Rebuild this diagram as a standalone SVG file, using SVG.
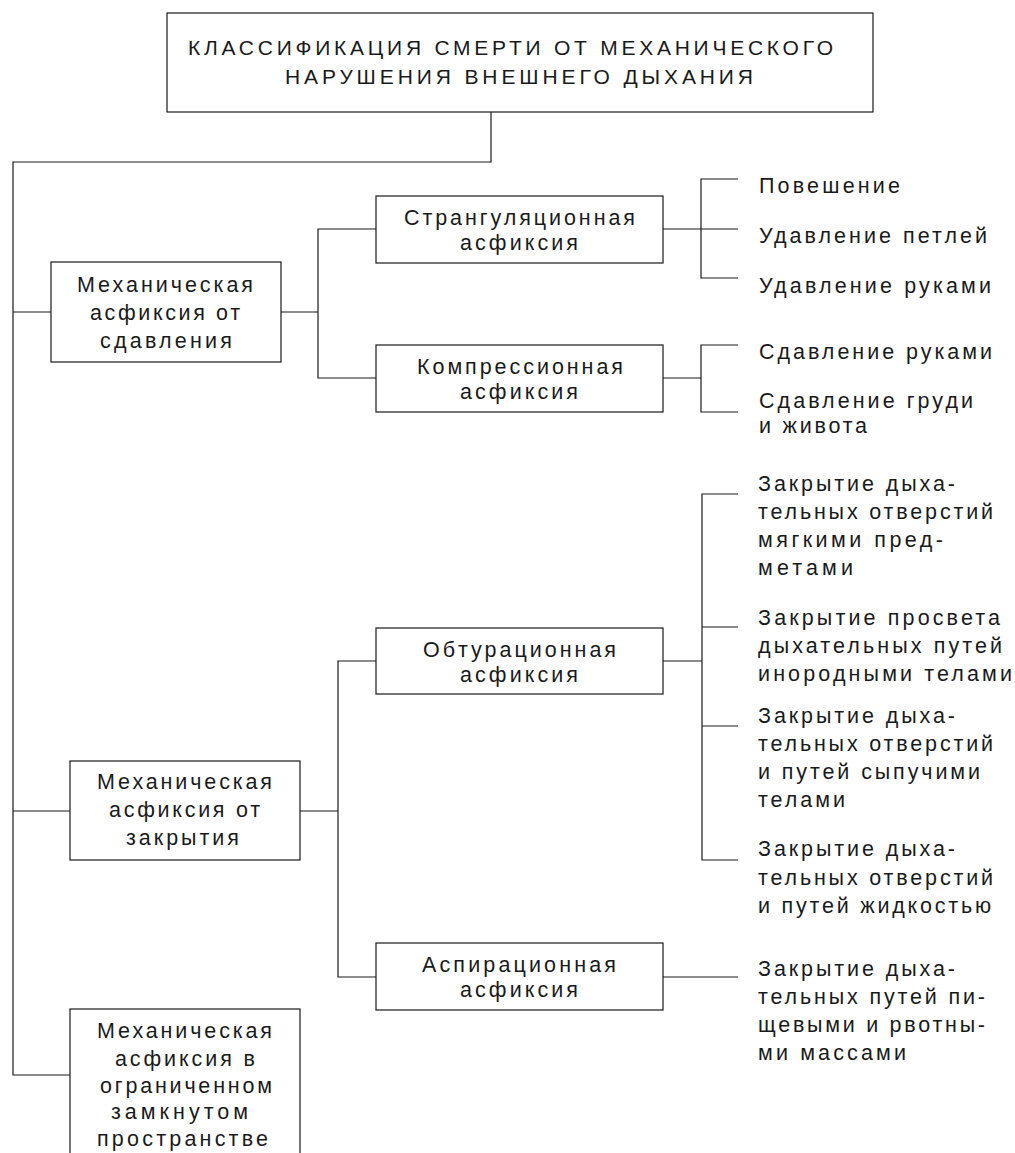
<svg xmlns="http://www.w3.org/2000/svg" width="1015" height="1153" viewBox="0 0 1015 1153">
<style>
.box{fill:#fff;stroke:#1a1a1a;stroke-width:1.2}
.ln{fill:none;stroke:#1a1a1a;stroke-width:1.2}
text{font-family:"Liberation Sans","DejaVu Sans",Arial,sans-serif;font-size:21.5px;fill:#1a1a1a}
.tt{font-size:21px}
</style>
<rect width="1015" height="1153" fill="#fff"/>
<g id="connectors">
<polyline class="ln" points="491,112 491,162 13,162 13,1075 70,1075"/>
<line class="ln" x1="13" y1="312" x2="51" y2="312"/>
<line class="ln" x1="13" y1="811" x2="70" y2="811"/>
<line class="ln" x1="281" y1="312" x2="318" y2="312"/>
<polyline class="ln" points="376,229 318,229 318,378 376,378"/>
<line class="ln" x1="663" y1="229" x2="701" y2="229"/>
<polyline class="ln" points="738,179 701,179 701,278 738,278"/>
<line class="ln" x1="701" y1="229" x2="738" y2="229"/>
<line class="ln" x1="663" y1="378" x2="701" y2="378"/>
<polyline class="ln" points="738,345 701,345 701,412 738,412"/>
<line class="ln" x1="300" y1="811" x2="338" y2="811"/>
<polyline class="ln" points="376,661 338,661 338,977 376,977"/>
<line class="ln" x1="663" y1="661" x2="702" y2="661"/>
<polyline class="ln" points="738,494 702,494 702,860 738,860"/>
<line class="ln" x1="702" y1="627" x2="738" y2="627"/>
<line class="ln" x1="702" y1="726" x2="738" y2="726"/>
<line class="ln" x1="663" y1="977" x2="738" y2="977"/>
</g>
<g id="title">
<rect class="box" x="167" y="13" width="706" height="99"/>
<text class="tt" x="188" y="55" textLength="645" lengthAdjust="spacing">КЛАССИФИКАЦИЯ СМЕРТИ ОТ МЕХАНИЧЕСКОГО</text>
<text class="tt" x="285" y="84" textLength="468" lengthAdjust="spacing">НАРУШЕНИЯ ВНЕШНЕГО ДЫХАНИЯ</text>
</g>
<g id="compression-group">
<rect class="box" x="51" y="262" width="230" height="100"/>
<text x="77" y="292" textLength="176" lengthAdjust="spacing">Механическая</text>
<text x="90" y="320" textLength="150" lengthAdjust="spacing">асфиксия от</text>
<text x="100" y="348" textLength="132" lengthAdjust="spacing">сдавления</text>
</g>
<g id="closure-group">
<rect class="box" x="70" y="761" width="230" height="99"/>
<text x="97" y="789" textLength="175" lengthAdjust="spacing">Механическая</text>
<text x="109" y="817" textLength="151" lengthAdjust="spacing">асфиксия от</text>
<text x="126" y="845" textLength="113" lengthAdjust="spacing">закрытия</text>
</g>
<g id="confined-group">
<rect class="box" x="70" y="1009" width="230" height="160"/>
<text x="97" y="1038" textLength="175" lengthAdjust="spacing">Механическая</text>
<text x="115" y="1066" textLength="140" lengthAdjust="spacing">асфиксия в</text>
<text x="100" y="1093" textLength="172" lengthAdjust="spacing">ограниченном</text>
<text x="111" y="1119" textLength="137" lengthAdjust="spacing">замкнутом</text>
<text x="97" y="1146" textLength="171" lengthAdjust="spacing">пространстве</text>
</g>
<g id="strangulation">
<rect class="box" x="376" y="196" width="287" height="67"/>
<text x="404" y="225" textLength="231" lengthAdjust="spacing">Странгуляционная</text>
<text x="460" y="250" textLength="118" lengthAdjust="spacing">асфиксия</text>
</g>
<g id="compression">
<rect class="box" x="376" y="345" width="287" height="67"/>
<text x="417" y="374" textLength="206" lengthAdjust="spacing">Компрессионная</text>
<text x="460" y="399" textLength="118" lengthAdjust="spacing">асфиксия</text>
</g>
<g id="obturation">
<rect class="box" x="376" y="628" width="287" height="66"/>
<text x="423" y="657" textLength="193" lengthAdjust="spacing">Обтурационная</text>
<text x="460" y="682" textLength="118" lengthAdjust="spacing">асфиксия</text>
</g>
<g id="aspiration">
<rect class="box" x="376" y="943" width="287" height="67"/>
<text x="422" y="972" textLength="194" lengthAdjust="spacing">Аспирационная</text>
<text x="460" y="997" textLength="118" lengthAdjust="spacing">асфиксия</text>
</g>
<g id="hanging"><text x="759" y="193" textLength="141" lengthAdjust="spacing">Повешение</text></g>
<g id="noose"><text x="759" y="243" textLength="228" lengthAdjust="spacing">Удавление петлей</text></g>
<g id="hands-strangle"><text x="759" y="293" textLength="232" lengthAdjust="spacing">Удавление руками</text></g>
<g id="hands-compress"><text x="759" y="359" textLength="233" lengthAdjust="spacing">Сдавление руками</text></g>
<g id="chest">
<text x="759" y="408" textLength="214" lengthAdjust="spacing">Сдавление груди</text>
<text x="759" y="433" textLength="108" lengthAdjust="spacing">и живота</text>
</g>
<g id="soft-objects">
<text x="758" y="491" textLength="197" lengthAdjust="spacing">Закрытие дыха-</text>
<text x="758" y="519" textLength="235" lengthAdjust="spacing">тельных отверстий</text>
<text x="758" y="547" textLength="185" lengthAdjust="spacing">мягкими пред-</text>
<text x="758" y="575" textLength="95" lengthAdjust="spacing">метами</text>
</g>
<g id="foreign-bodies">
<text x="758" y="625" textLength="242" lengthAdjust="spacing">Закрытие просвета</text>
<text x="758" y="653" textLength="244" lengthAdjust="spacing">дыхательных путей</text>
<text x="758" y="681" textLength="254" lengthAdjust="spacing">инородными телами</text>
</g>
<g id="loose-bodies">
<text x="758" y="723" textLength="197" lengthAdjust="spacing">Закрытие дыха-</text>
<text x="758" y="751" textLength="235" lengthAdjust="spacing">тельных отверстий</text>
<text x="758" y="779" textLength="222" lengthAdjust="spacing">и путей сыпучими</text>
<text x="758" y="807" textLength="87" lengthAdjust="spacing">телами</text>
</g>
<g id="liquid">
<text x="758" y="856" textLength="197" lengthAdjust="spacing">Закрытие дыха-</text>
<text x="758" y="885" textLength="235" lengthAdjust="spacing">тельных отверстий</text>
<text x="758" y="913" textLength="233" lengthAdjust="spacing">и путей жидкостью</text>
</g>
<g id="vomit">
<text x="758" y="976" textLength="197" lengthAdjust="spacing">Закрытие дыха-</text>
<text x="758" y="1004" textLength="227" lengthAdjust="spacing">тельных путей пи-</text>
<text x="758" y="1032" textLength="227" lengthAdjust="spacing">щевыми и рвотны-</text>
<text x="758" y="1060" textLength="148" lengthAdjust="spacing">ми массами</text>
</g>
</svg>
